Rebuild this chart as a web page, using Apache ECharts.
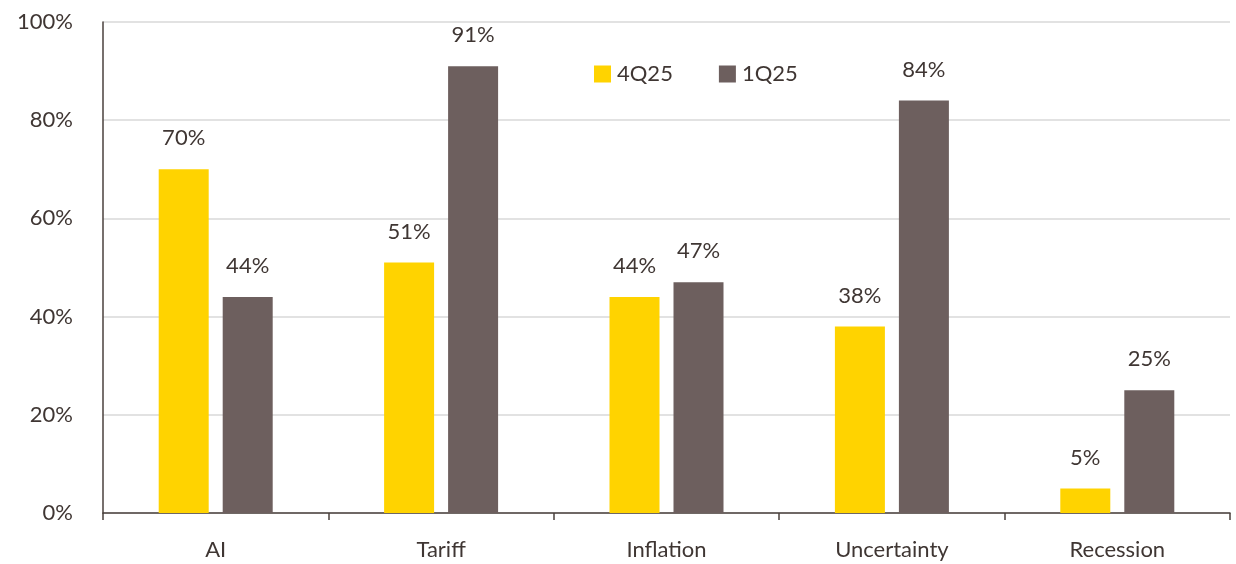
<!DOCTYPE html>
<html>
<head>
<meta charset="utf-8">
<script src="https://cdn.jsdelivr.net/npm/echarts@6/dist/echarts.min.js"></script>
<style>
  html, body { margin: 0; padding: 0; background: #fff; }
  #chart { width: 1236px; height: 564px; }
</style>
</head>
<body>
<div id="chart"></div>
<script>
// Share of respondents citing each theme, by quarter
const categories = ['AI', 'Tariff', 'Inflation', 'Uncertainty', 'Recession'];
const q4_25 = [70, 51, 44, 38, 5];
const q1_25 = [44, 91, 47, 84, 25];
const seriesNames = ['4Q25', '1Q25'];

const textColor = '#3f3633';
const fontFamily = 'Lato, "Noto Sans", sans-serif';

const chart = echarts.init(document.getElementById('chart'), null, { renderer: 'canvas' });

const labelStyle = {
  show: true,
  position: 'top',
  distance: 20,
  formatter: p => p.value + '%',
  color: textColor,
  fontSize: 22,
  fontFamily
};

chart.setOption({
  animation: false,
  grid: { left: 103, right: 6, top: 22, bottom: 51, containLabel: false },
  legend: {
    data: seriesNames,
    left: 589,
    top: 58,
    itemWidth: 17,
    itemHeight: 17,
    itemGap: 46,
    icon: 'rect',
    textStyle: { color: textColor, fontSize: 22, fontFamily, padding: [0, 0, 0, 1] }
  },
  xAxis: {
    type: 'category',
    data: categories,
    axisLine: { lineStyle: { color: '#4a403c', width: 1.5 } },
    axisTick: { show: true, length: 7, lineStyle: { color: '#4a403c', width: 1.5 } },
    axisLabel: { color: textColor, fontSize: 22, fontFamily, margin: 26 }
  },
  yAxis: {
    type: 'value',
    min: 0,
    max: 100,
    interval: 20,
    axisLine: { show: true, lineStyle: { color: '#4a403c', width: 1.5 } },
    axisTick: { show: false },
    splitLine: { lineStyle: { color: '#d9d9d9', width: 1.5 } },
    axisLabel: { color: textColor, fontSize: 22, fontFamily, margin: 30, formatter: '{value}%' }
  },
  series: [
    {
      name: seriesNames[0],
      type: 'bar',
      data: q4_25,
      barWidth: 50,
      barGap: '28%',
      itemStyle: { color: '#FFD300' },
      label: labelStyle
    },
    {
      name: seriesNames[1],
      type: 'bar',
      data: q1_25,
      barWidth: 50,
      itemStyle: { color: '#6d5f5e' },
      label: labelStyle
    }
  ]
});
</script>
</body>
</html>
